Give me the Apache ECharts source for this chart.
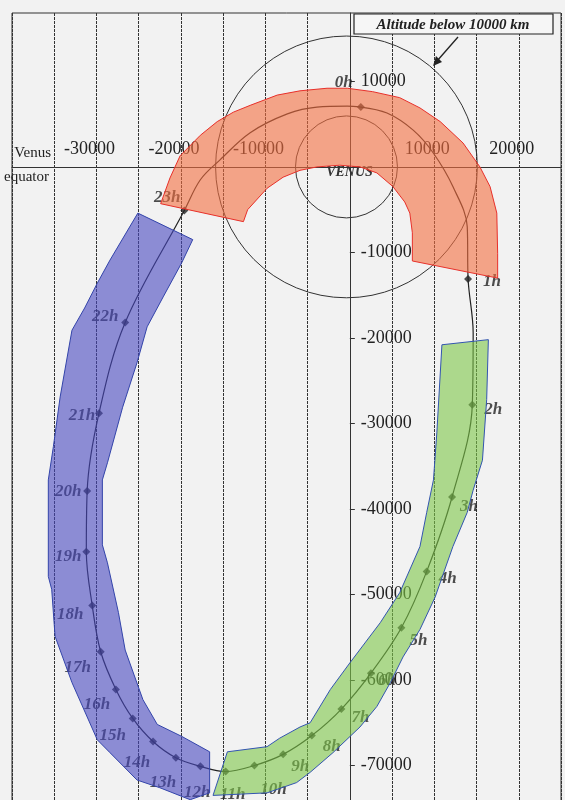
<!DOCTYPE html>
<html>
<head>
<meta charset="utf-8">
<title>Venus orbit</title>
<script src="https://cdn.jsdelivr.net/npm/echarts/dist/echarts.min.js"></script>
<style>
    html, body {margin: 0; padding: 0; background: #f2f2f2;}
    #chart {width: 565px; height: 800px;}
</style>
</head>
<body>
<div id="chart"></div>
<script type="text/javascript">
    // hourly positions along the orbit (km)
    var hourNames = ['0h','1h','2h','3h','4h','5h','6h','7h','8h','9h','10h','11h',
                     '12h','13h','14h','15h','16h','17h','18h','19h','20h','21h','22h','23h'];
    var hourX = [1300, 14000, 14500, 12100, 9100, 6100, 2500, -1000, -4500, -7900, -11300, -14700,
                 -17700, -20600, -23300, -25700, -27700, -29500, -30500, -31200, -31100, -29700, -26600, -19600];
    var hourY = [7000, -13100, -27800, -38600, -47300, -53900, -59200, -63400, -66500, -68700, -70000, -70700,
                 -70100, -69100, -67200, -64500, -61100, -56700, -51300, -45000, -37900, -28800, -18200, -5100];

    // orbit trace (km), hours plus extra points around periapsis
    var orbitX = [1300, 4400, 7500, 9900, 12200, 13900, 14000, 14600, 14500, 12100, 9100, 6100, 2500, -1000,
                  -4500, -7900, -11300, -14700, -17700, -20600, -23300, -25700, -27700, -29500, -30500, -31200,
                  -31100, -29700, -26600, -19600, -17700, -15400, -11800, -7400, -3900, -300, 1300];
    var orbitY = [7000, 6300, 4300, 1600, -2300, -7000, -13100, -19400, -27800, -38600, -47300, -53900, -59200, -63400,
                  -66500, -68700, -70000, -70700, -70100, -69100, -67200, -64500, -61100, -56700, -51300, -45000,
                  -37900, -28800, -18200, -5100, -1500, 800, 4000, 6200, 7000, 7100, 7000];

    // circles: Venus and altitude 10000 km
    var circleX = [-400, -400];
    var circleY = [0, 0];
    var circleR = [6000, 15400];
    var circleNames = ['VENUS', ''];

    // shaded bands (km)
    var redX = [-22400, -21300, -20100, -17700, -15700, -13800, -11800, -8600, -5900, -2700, -300, 2700, 5900, 8300,
                10700, 13400, 15400, 16600, 17400, 17500, 17500,
                7400, 7400, 7100, 6500, 5100, 3200, 1200, -1200, -3900, -5900, -7900, -9800, -12100, -12600];
    var redY = [-4300, -1300, 1300, 3700, 5300, 6400, 7200, 8400, 8900, 9200, 9200, 8800, 8100, 6900,
                5300, 2800, 0, -2300, -5400, -10100, -13000,
                -11000, -7700, -5400, -4100, -2300, -700, 0, 200, 0, -400, -1200, -2500, -5000, -6400];

    var blueX = [-25100, -18600, -19900, -22100, -24000, -25200, -26900, -28700, -29300, -29300, -28700, -27400,
                 -26600, -24500, -22800, -19900, -16600, -16600, -18900, -22500, -25200, -28400, -29900, -32900,
                 -34900, -35300, -35700, -35700, -35100, -34300, -32900, -31400, -29900, -28400];
    var blueY = [-5400, -8500, -11200, -15200, -18700, -22900, -28100, -34600, -36600, -44200, -46300, -52100,
                 -56500, -62300, -65200, -66600, -68400, -73200, -74000, -72600, -71700, -68500, -67000, -60300,
                 -54900, -49400, -47900, -36600, -32700, -26900, -19100, -16500, -13600, -10900];

    var greenX = [10900, 16400, 16200, 15700, 14600, 13900, 12200, 10100, 8300, 6300, 4800, 3200, 1200, -2000,
                  -4700, -6300, -9800, -16200, -14500, -9800, -8300, -5900, -4700, -2300, 0, 3600, 5900, 8300,
                  9100, 9900, 10300];
    var greenY = [-20800, -20200, -27200, -34300, -37800, -40400, -44400, -50300, -54100, -57300, -60300, -63100,
                  -65500, -68500, -70800, -72000, -73200, -73500, -68400, -67800, -66800, -65500, -65000, -61100,
                  -58000, -53300, -49800, -44400, -40400, -36600, -31100];

    // label offsets of the hour names (px)
    var hourLabelOffset = [[-17,-24],[24,3],[21,5],[17,10],[21,7],[17,13],[16,7],[19,9],[20,11],[17,12],[19,24],[7,23],
                           [-3,26],[-13,25],[-16,21],[-20,17],[-19,15],[-23,16],[-22,9],[-18,5],[-19,1],[-17,2],[-20,-6],[-17,-13]];

    var serif = "'Liberation Serif', 'DejaVu Serif', serif";

    // grid geometry: x -40000..25000 over 549px, y -80000..18000 over 838px
    var gridLeft = 12, gridTop = 13, gridW = 549, gridH = 838;
    var xMin = -40000, xMax = 25000, yMin = -80000, yMax = 18000;
    var zeroX = gridW * (0 - xMin) / (xMax - xMin);
    var zeroY = gridH * (yMax - 0) / (yMax - yMin);

    function pairs(xs, ys) {
        return xs.map(function (x, i) { return [x, ys[i]]; });
    }

    function bandSeries(xs, ys, fill, stroke) {
        return {
            type: 'custom',
            z: 10,
            silent: true,
            renderItem: function (params, api) {
                var pts = xs.map(function (x, i) { return api.coord([x, ys[i]]); });
                return {
                    type: 'polygon',
                    shape: {points: pts},
                    style: {fill: fill, stroke: stroke, lineWidth: 1}
                };
            },
            data: [[xs[0], ys[0]]]
        };
    }

    var hourData = hourNames.map(function (n, i) {
        return {name: n, value: [hourX[i], hourY[i]], label: {offset: hourLabelOffset[i]}};
    });

    var myChart = echarts.init(document.getElementById('chart'));

    var option = {
        backgroundColor: '#f2f2f2',
        animation: false,
        grid: {
            left: gridLeft, top: gridTop, width: gridW, height: gridH,
            containLabel: false, outerBoundsMode: 'none',
            show: true, borderColor: '#333', borderWidth: 1, backgroundColor: 'transparent'
        },
        xAxis: {
            type: 'value',
            min: xMin,
            max: xMax,
            interval: 5000,
            position: 'top',
            offset: -zeroY,
            axisLine: {onZero: false, lineStyle: {color: '#333', width: 1.2}},
            axisTick: {show: false},
            axisLabel: {
                margin: 9,
                padding: [0, 14, 0, 0],
                fontFamily: serif,
                fontSize: 18,
                color: '#222',
                showMaxLabel: false,
                formatter: function (v) {
                    return (v % 10000 === 0 && v !== 0 && v !== -40000) ? String(v) : '';
                }
            },
            splitLine: {show: true, lineStyle: {color: '#333', width: 1, type: [3, 1]}}
        },
        yAxis: {
            type: 'value',
            min: yMin,
            max: yMax,
            interval: 10000,
            position: 'left',
            offset: -zeroX,
            axisLine: {onZero: false, lineStyle: {color: '#333', width: 1}},
            axisTick: {show: true, inside: true, length: 5, lineStyle: {color: '#333'}},
            axisLabel: {
                inside: true,
                margin: 11,
                fontFamily: serif,
                fontSize: 18,
                color: '#222',
                showMaxLabel: false,
                formatter: function (v) { return v === 0 ? '' : String(v); }
            },
            splitLine: {show: false}
        },
        graphic: [
            {type: 'rect', shape: {x: 354, y: 14, width: 199, height: 20},
             style: {fill: '#f6f6f6', stroke: '#222', lineWidth: 1.2}, z: 20},
            {type: 'text', x: 453, y: 25, z: 21,
             style: {text: 'Altitude below 10000 km', font: 'bold italic 15px ' + serif,
                     fill: '#222', align: 'center', verticalAlign: 'middle'}},
            {type: 'line', shape: {x1: 458, y1: 37, x2: 437, y2: 61},
             style: {stroke: '#222', lineWidth: 1.3}, z: 20},
            {type: 'polygon', shape: {points: [[433, 66], [442, 62], [436, 56]]},
             style: {fill: '#222'}, z: 20},
            {type: 'text', x: 51, y: 153, z: 20,
             style: {text: 'Venus', font: '15px ' + serif, fill: '#222', align: 'right', verticalAlign: 'middle'}},
            {type: 'text', x: 4, y: 177, z: 20,
             style: {text: 'equator', font: '15px ' + serif, fill: '#222', align: 'left', verticalAlign: 'middle'}}
        ],
        series: [
            {
                type: 'custom',
                silent: true,
                z: 3,
                renderItem: function (params, api) {
                    var c = api.coord([api.value(0), api.value(1)]);
                    var s = api.size([api.value(2), api.value(2)]);
                    var children = [{
                        type: 'circle',
                        shape: {cx: c[0], cy: c[1], r: (s[0] + s[1]) / 2},
                        style: {fill: 'none', stroke: '#333', lineWidth: 1}
                    }];
                    var name = circleNames[params.dataIndex];
                    if (name) {
                        children.push({
                            type: 'text',
                            style: {text: name, x: c[0] + 3, y: c[1] + 5, font: 'bold italic 14px ' + serif,
                                    fill: '#333', align: 'center', verticalAlign: 'middle'}
                        });
                    }
                    return {type: 'group', children: children};
                },
                data: circleX.map(function (x, i) { return [x, circleY[i], circleR[i]]; })
            },
            {
                type: 'line',
                z: 4,
                data: pairs(orbitX, orbitY),
                smooth: 0.35,
                showSymbol: false,
                lineStyle: {color: '#222', width: 1.2}
            },
            {
                type: 'scatter',
                z: 5,
                data: hourData,
                symbol: 'diamond',
                symbolSize: 8,
                itemStyle: {color: '#222'},
                label: {
                    show: true,
                    position: 'inside',
                    formatter: '{b}',
                    fontFamily: serif,
                    fontStyle: 'italic',
                    fontWeight: 'bold',
                    fontSize: 17,
                    color: '#222'
                }
            },
            bandSeries(redX, redY, 'rgba(244,110,64,0.6)', '#e8302a'),
            bandSeries(blueX, blueY, 'rgba(72,72,192,0.6)', '#3344aa'),
            bandSeries(greenX, greenY, 'rgba(125,199,72,0.6)', '#3355b0')
        ]
    };

    myChart.setOption(option);
</script>
</body>
</html>
